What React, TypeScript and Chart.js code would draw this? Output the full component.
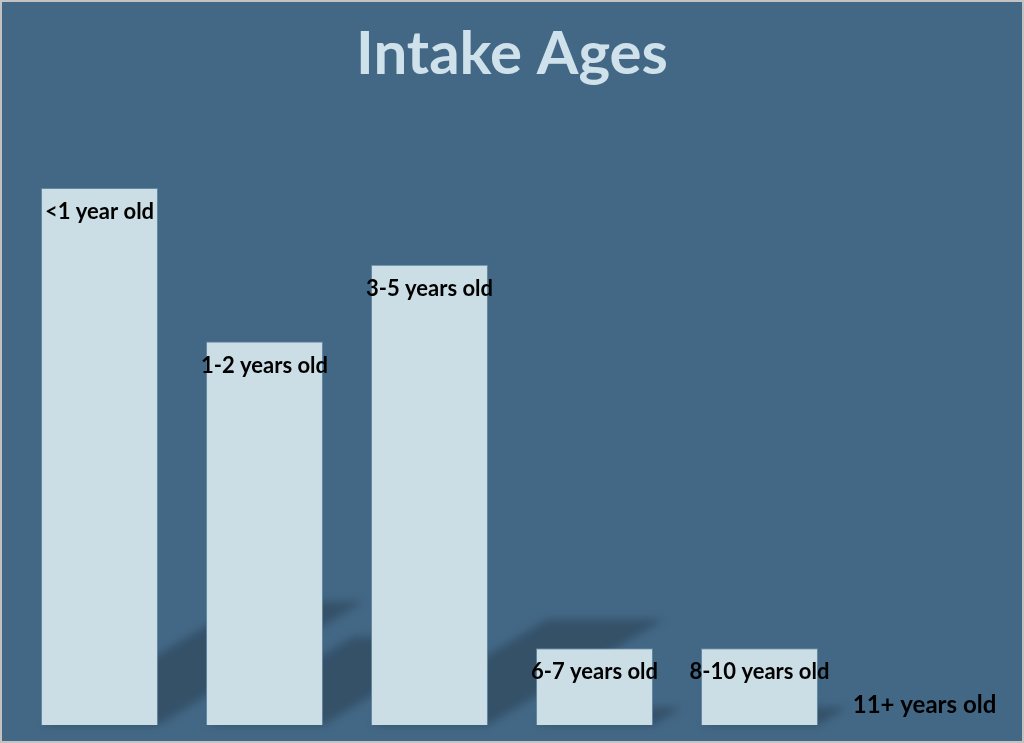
import React, { useEffect, useRef } from "react";
import { Chart, registerables } from "chart.js";

Chart.register(...registerables);

const categories = ["<1 year old", "1-2 years old", "3-5 years old", "6-7 years old", "8-10 years old", "11+ years old"];
const counts = [7, 5, 6, 1, 1, 0];
const titleText = "Intake Ages";

const BG = "#436886";
const BAR = "#cbdde5";
const TITLE = "#cfe1ea";

const shadowPlugin = {
  id: "barShadows",
  beforeDatasetsDraw(chart: any) {
    const ctx = chart.ctx;
    const meta = chart.getDatasetMeta(0);
    ctx.save();
    ctx.filter = "blur(4px)";
    ctx.fillStyle = "rgba(0,0,0,0.22)";
    meta.data.forEach((el: any) => {
      const p = el.getProps(["x", "y", "base", "width"], true);
      const h = p.base - p.y;
      if (h <= 0) return;
      const hs = h * 0.23;
      const dx = hs / 0.6;
      const l = p.x - p.width / 2;
      const r = p.x + p.width / 2;
      ctx.beginPath();
      ctx.moveTo(l, p.base);
      ctx.lineTo(r, p.base);
      ctx.lineTo(r + dx, p.base - hs);
      ctx.lineTo(l + dx, p.base - hs);
      ctx.closePath();
      ctx.fill();
    });
    ctx.restore();
  },
};

const labelPlugin = {
  id: "barLabels",
  afterDatasetsDraw(chart: any) {
    const ctx = chart.ctx;
    const meta = chart.getDatasetMeta(0);
    ctx.save();
    ctx.fillStyle = "#000000";
    ctx.textAlign = "center";
    ctx.textBaseline = "middle";
    meta.data.forEach((el: any, i: number) => {
      const p = el.getProps(["x", "y", "base"], true);
      const h = p.base - p.y;
      const inside = h > 0;
      ctx.font = inside ? "bold 22px Lato" : "bold 24px Lato";
      const y = inside ? p.y + 24 : p.base - 20;
      ctx.fillText(categories[i], p.x, y);
    });
    ctx.restore();
  },
};

export default function App() {
  const ref = useRef<HTMLCanvasElement>(null);
  useEffect(() => {
    document.body.style.margin = "0";
    const chart = new Chart(ref.current!, {
      type: "bar",
      data: {
        labels: categories,
        datasets: [
          {
            data: counts,
            backgroundColor: BAR,
            borderColor: "rgba(110,145,170,0.8)",
            borderWidth: 1,
            categoryPercentage: 1,
            barPercentage: 0.709,
          },
        ],
      },
      options: {
        animation: false,
        responsive: false,
        maintainAspectRatio: false,
        layout: { padding: { left: 15, right: 15, top: 0, bottom: 16 } },
        plugins: {
          legend: { display: false },
          tooltip: { enabled: false },
          title: {
            display: true,
            text: titleText,
            color: TITLE,
            font: { family: "Lato", size: 60, weight: "bold", lineHeight: 1.2 },
            padding: { top: 17, bottom: 97 },
          },
        },
        scales: {
          x: { display: false },
          y: { display: false, min: 0, max: 7 },
        },
      },
      plugins: [shadowPlugin, labelPlugin],
    });
    return () => chart.destroy();
  }, []);
  return (
    <div
      style={{
        width: 1024,
        height: 743,
        boxSizing: "border-box",
        border: "2px solid #c3c3c3",
        background: BG,
      }}
    >
      <canvas ref={ref} width={1020} height={739} style={{ display: "block", width: 1020, height: 739 }} />
    </div>
  );
}
